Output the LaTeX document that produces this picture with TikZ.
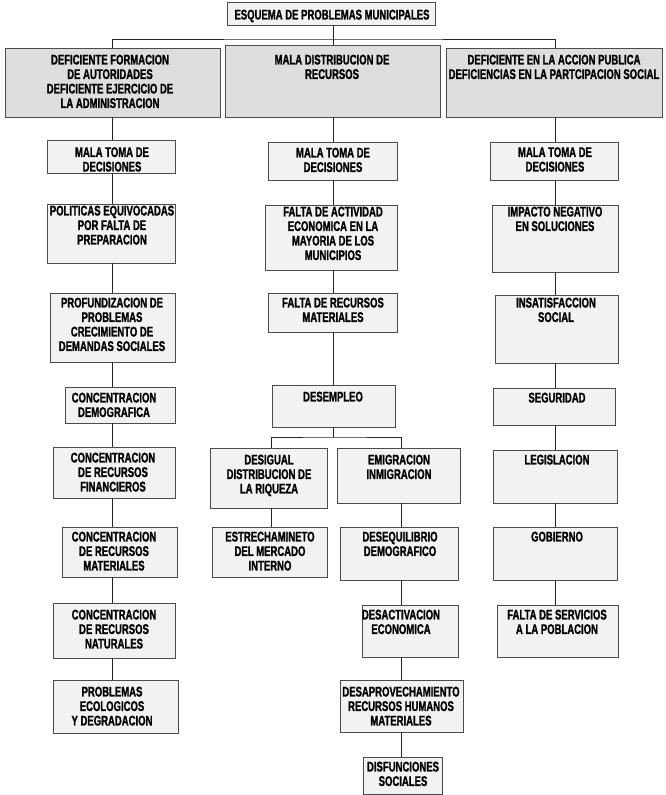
\documentclass[tikz,border=0pt]{standalone}
\usepackage{fontspec}
\setmainfont{Liberation Sans}[FakeStretch=0.68, BoldFeatures={FakeBold=1.2}]
\usetikzlibrary{fit}

\begin{document}
\begin{tikzpicture}[x=1pt, y=-1pt,
    font=\bfseries\fontsize{14}{14.5}\selectfont,
    probbox/.style={draw=black!70, line width=0.7pt, fill=black!5, inner sep=0pt},
    headbox/.style={probbox, fill=black!13},
    probtext/.style={align=center, inner sep=0pt, anchor=north},
    link/.style={line width=0.9pt, black!85}]
\useasboundingbox (0,0) rectangle (665,795);

% columns and branch points
\coordinate (cl) at (112,0);
\coordinate (cm) at (333,0);
\coordinate (cr) at (555,0);
\coordinate (cs1) at (271,0);
\coordinate (cs2) at (401,0);
\coordinate (bus) at (333,39);
\coordinate (split) at (333,437);

% title
\node[probbox, fit={(227,2) (435,25)}] (title) {};
\node[probtext] (title_t) at (332,9.5) {ESQUEMA DE PROBLEMAS MUNICIPALES};

% first level
\node[headbox, fit={(5,48) (220,117)}] (def_form) {};
\node[probtext] (def_form_t) at (110,54.5) {DEFICIENTE FORMACION\\DE AUTORIDADES\\DEFICIENTE EJERCICIO DE\\LA ADMINISTRACION};
\node[headbox, fit={(225,45) (440,117)}] (mala_dist) {};
\node[probtext] (mala_dist_t) at (332,54.5) {MALA DISTRIBUCION DE\\RECURSOS};
\node[headbox, fit={(446,48) (662,117)}] (def_acc) {};
\node[probtext] (def_acc_t) at (554,54.5) {DEFICIENTE EN LA ACCION PUBLICA\\DEFICIENCIAS EN LA PARTCIPACION SOCIAL};

% left column
\node[probbox, fit={(47,140) (175,173)}] (mala_l) {};
\node[probtext] (mala_l_t) at (112,147) {MALA TOMA DE\\DECISIONES};
\node[probbox, fit={(47,204) (175,263)}] (politicas) {};
\node[probtext] (politicas_t) at (112,205.5) {POLITICAS EQUIVOCADAS\\POR FALTA DE\\PREPARACION};
\node[probbox, fit={(50,293) (175,362)}] (profund) {};
\node[probtext] (profund_t) at (112,297.5) {PROFUNDIZACION DE\\PROBLEMAS\\CRECIMIENTO DE\\DEMANDAS SOCIALES};
\node[probbox, fit={(65,387) (175,423)}] (demog) {};
\node[probtext] (demog_t) at (114,392.5) {CONCENTRACION\\DEMOGRAFICA};
\node[probbox, fit={(53,447) (175,498)}] (financ) {};
\node[probtext] (financ_t) at (113,452.5) {CONCENTRACION\\DE RECURSOS\\FINANCIEROS};
\node[probbox, fit={(62,527) (177,577)}] (mater_l) {};
\node[probtext] (mater_l_t) at (114,531.5) {CONCENTRACION\\DE RECURSOS\\MATERIALES};
\node[probbox, fit={(53,603) (175,658)}] (natur) {};
\node[probtext] (natur_t) at (114,609.5) {CONCENTRACION\\DE RECURSOS\\NATURALES};
\node[probbox, fit={(53,680) (178,733)}] (ecolog) {};
\node[probtext] (ecolog_t) at (112,686.5) {PROBLEMAS\\ECOLOGICOS\\Y DEGRADACION};

% middle column
\node[probbox, fit={(268,142) (397,180)}] (mala_m) {};
\node[probtext] (mala_m_t) at (333,147.5) {MALA TOMA DE\\DECISIONES};
\node[probbox, fit={(265,205) (397,270)}] (falta_act) {};
\node[probtext] (falta_act_t) at (333,206.5) {FALTA DE ACTIVIDAD\\ECONOMICA EN LA\\MAYORIA DE LOS\\MUNICIPIOS};
\node[probbox, fit={(268,293) (397,332)}] (falta_rec) {};
\node[probtext] (falta_rec_t) at (333,297.5) {FALTA DE RECURSOS\\MATERIALES};
\node[probbox, fit={(272,385) (395,427)}] (desempleo) {};
\node[probtext] (desempleo_t) at (333,391.5) {DESEMPLEO};
\node[probbox, fit={(210,448) (327,508)}] (desigual) {};
\node[probtext] (desigual_t) at (269,454.5) {DESIGUAL\\DISTRIBUCION DE\\LA RIQUEZA};
\node[probbox, fit={(337,448) (460,503)}] (emigr) {};
\node[probtext] (emigr_t) at (399,454.5) {EMIGRACION\\INMIGRACION};
\node[probbox, fit={(212,527) (327,577)}] (estrech) {};
\node[probtext] (estrech_t) at (270,531.5) {ESTRECHAMINETO\\DEL MERCADO\\INTERNO};
\node[probbox, fit={(340,527) (458,580)}] (deseq) {};
\node[probtext] (deseq_t) at (400,531.5) {DESEQUILIBRIO\\DEMOGRAFICO};
\node[probbox, fit={(362,605) (458,657)}] (desact) {};
\node[probtext] (desact_t) at (401,609.5) {DESACTIVACION\\ECONOMICA};
\node[probbox, fit={(340,680) (463,732)}] (desaprov) {};
\node[probtext] (desaprov_t) at (401,686.5) {DESAPROVECHAMIENTO\\RECURSOS HUMANOS\\MATERIALES};
\node[probbox, fit={(363,757) (442,794)}] (disfunc) {};
\node[probtext] (disfunc_t) at (403,761.5) {DISFUNCIONES\\SOCIALES};

% right column
\node[probbox, fit={(490,142) (618,180)}] (mala_r) {};
\node[probtext] (mala_r_t) at (555,147) {MALA TOMA DE\\DECISIONES};
\node[probbox, fit={(492,205) (618,272)}] (impacto) {};
\node[probtext] (impacto_t) at (555,206.5) {IMPACTO NEGATIVO\\EN SOLUCIONES};
\node[probbox, fit={(495,295) (618,363)}] (insat) {};
\node[probtext] (insat_t) at (556,297.5) {INSATISFACCION\\SOCIAL};
\node[probbox, fit={(493,388) (615,425)}] (segur) {};
\node[probtext] (segur_t) at (557,392.5) {SEGURIDAD};
\node[probbox, fit={(493,450) (617,503)}] (legis) {};
\node[probtext] (legis_t) at (557,454.5) {LEGISLACION};
\node[probbox, fit={(493,527) (617,580)}] (gobierno) {};
\node[probtext] (gobierno_t) at (557,531.5) {GOBIERNO};
\node[probbox, fit={(497,605) (618,657)}] (servicios) {};
\node[probtext] (servicios_t) at (557,609.5) {FALTA DE SERVICIOS\\A LA POBLACION};

% tree
\draw[link] (title.south -| cm) -- (mala_dist.north -| cm);
\draw[link] (def_form.north -| cl) |- (bus) -| (def_acc.north -| cr);
\foreach \a/\b in {def_form/mala_l, mala_l/politicas, politicas/profund, profund/demog,
    demog/financ, financ/mater_l, mater_l/natur, natur/ecolog}
  \draw[link] (\a.south -| cl) -- (\b.north -| cl);
\foreach \a/\b in {mala_dist/mala_m, mala_m/falta_act, falta_act/falta_rec, falta_rec/desempleo}
  \draw[link] (\a.south -| cm) -- (\b.north -| cm);
\draw[link] (desempleo.south -| cm) -- (split);
\draw[link] (desigual.north -| cs1) |- (split) -| (emigr.north -| cs2);
\draw[link] (desigual.south -| cs1) -- (estrech.north -| cs1);
\foreach \a/\b in {emigr/deseq, deseq/desact, desact/desaprov, desaprov/disfunc}
  \draw[link] (\a.south -| cs2) -- (\b.north -| cs2);
\foreach \a/\b in {def_acc/mala_r, mala_r/impacto, impacto/insat, insat/segur,
    segur/legis, legis/gobierno, gobierno/servicios}
  \draw[link] (\a.south -| cr) -- (\b.north -| cr);
\end{tikzpicture}
\end{document}
